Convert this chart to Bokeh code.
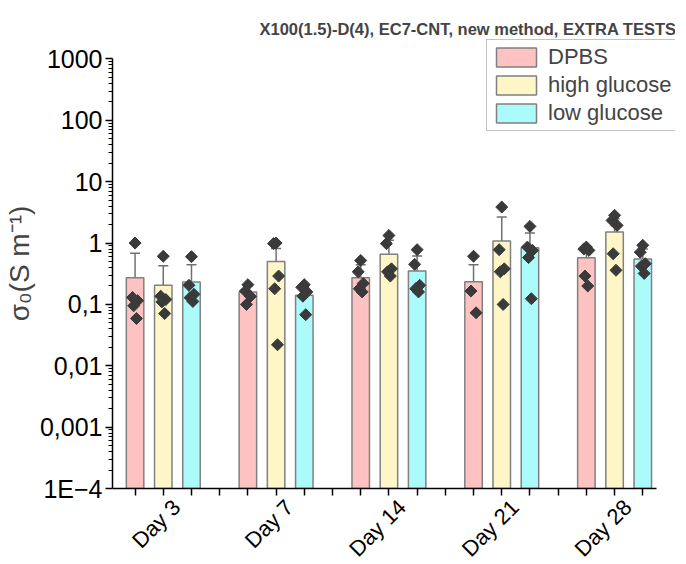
import numpy as np
from bokeh.plotting import figure
from bokeh.models import (FixedTicker, Whisker, TeeHead, ColumnDataSource, Legend,
                          LegendItem, Range1d, CustomJSTickFormatter)
from bokeh.embed import file_html
from bokeh.resources import INLINE

# ---------------- data ----------------
days = ["Day 3", "Day 7", "Day 14", "Day 21", "Day 28"]
series_names = ["DPBS", "high glucose", "low glucose"]

mean_dpbs = [0.273, 0.159, 0.273, 0.235, 0.578]
mean_high = [0.205, 0.503, 0.655, 1.08, 1.51]
mean_low = [0.232, 0.141, 0.35, 0.84, 0.55]

err_hi_dpbs = [0.41, 0.04, 0.17, 0.21, 0.30]
err_hi_high = [0.22, 0.31, 0.46, 1.57, 0.98]
err_hi_low = [0.21, 0.05, 0.265, 0.62, 0.25]

err_lo_dpbs = [0.41, 0.04, 0.145, 0.21, 0.30]
err_lo_high = [0.22, 0.47, 0.46, 1.57, 0.98]
err_lo_low = [0.21, 0.05, 0.26, 0.63, 0.25]

pts_dpbs = [[1.0, 0.13, 0.115, 0.095, 0.059],
            [0.21, 0.165, 0.135, 0.10],
            [0.52, 0.34, 0.22, 0.18, 0.16],
            [0.61, 0.165, 0.073],
            [0.86, 0.80, 0.76, 0.29, 0.20]]
pts_high = [[0.61, 0.136, 0.12, 0.11, 0.071],
            [1.0, 0.98, 0.29, 0.18, 0.022],
            [1.33, 0.98, 0.38, 0.34, 0.29],
            [3.86, 0.78, 0.38, 0.34, 0.10],
            [2.83, 2.34, 1.94, 0.67, 0.36]]
pts_low = [[0.60, 0.205, 0.146, 0.129, 0.112],
           [0.21, 0.19, 0.16, 0.136, 0.068],
           [0.78, 0.45, 0.205, 0.18, 0.16],
           [1.87, 0.86, 0.76, 0.58, 0.124],
           [0.92, 0.71, 0.46, 0.42, 0.32]]

ytick_labels = ["1E\u22124", "0,001", "0,01", "0,1", "1", "10", "100", "1000"]

# ---------------- styling ----------------
FONT = "Liberation Sans"
fills = ["#FFC2C2", "#FFF6C8", "#ABFBFB"]
edge = "#808080"
err_col = "#707070"
pt_col = "#3a3a3a"
BOTTOM = 1e-4
Y_TOP = 1e3

means = [mean_dpbs, mean_high, mean_low]
his = [err_hi_dpbs, err_hi_high, err_hi_low]
los = [err_lo_dpbs, err_lo_high, err_lo_low]
pts = [pts_dpbs, pts_high, pts_low]

p = figure(frame_width=563, frame_height=450, y_axis_type="log",
           x_range=Range1d(0.2, 20.16), y_range=Range1d(BOTTOM, 10 ** 3.334),
           output_backend="svg", toolbar_location=None,
           min_border_left=107, min_border_right=0, min_border_top=38,
           min_border_bottom=0)
p.outline_line_color = None
p.grid.visible = False
p.background_fill_color = "white"

bar_renderers = []
jit = [0.0, -0.09, 0.09, -0.05, 0.05]
for s in range(3):
    xs = [1 + 4 * g + s for g in range(len(days))]
    src = ColumnDataSource(dict(x=xs, top=means[s]))
    r = p.vbar(x="x", top="top", bottom=BOTTOM, width=0.62, source=src,
               fill_color=fills[s], line_color=edge, line_width=1.5)
    bar_renderers.append(r)

for s in range(3):
    xs = [1 + 4 * g + s for g in range(len(days))]
    up = ColumnDataSource(dict(base=xs, lower=means[s],
                               upper=[m + e for m, e in zip(means[s], his[s])]))
    w1 = Whisker(base="base", lower="lower", upper="upper", source=up,
                 line_color=err_col, line_width=1.5, lower_head=None,
                 upper_head=TeeHead(size=10, line_color=err_col, line_width=1.5))
    p.add_layout(w1)
    lb, ll, lu = [], [], []
    for x, m, e in zip(xs, means[s], los[s]):
        if m - e > 0:
            lb.append(x); ll.append(m - e); lu.append(m)
    if lb:
        dn = ColumnDataSource(dict(base=lb, lower=ll, upper=lu))
        w2 = Whisker(base="base", lower="lower", upper="upper", source=dn,
                     line_color=err_col, line_width=1.5, upper_head=None,
                     lower_head=TeeHead(size=10, line_color=err_col, line_width=1.5))
        p.add_layout(w2)

for s in range(3):
    px, py = [], []
    for g in range(len(days)):
        for i, v in enumerate(pts[s][g]):
            px.append(1 + 4 * g + s + jit[i % len(jit)])
            py.append(v)
    p.scatter(px, py, marker="square", angle=np.pi / 4, size=8.5,
              fill_color=pt_col, line_color=pt_col)

# ---------------- axes ----------------
yax = p.yaxis[0]
yax.bounds = (BOTTOM, Y_TOP)
yax.ticker = FixedTicker(ticks=[10.0 ** k for k in range(-4, 4)],
                         minor_ticks=[m * 10.0 ** k for k in range(-4, 3) for m in range(2, 10)])
yax.formatter = CustomJSTickFormatter(args=dict(labels=ytick_labels),
                                      code="const k = Math.round(Math.log10(tick)); return labels[k + 4];")
yax.axis_label = "\u03c3\u2080(S m\u207b\u00b9)"
yax.axis_label_text_font = FONT
yax.axis_label_text_font_style = "normal"
yax.axis_label_text_font_size = "28px"
yax.axis_label_standoff = 2
yax.major_label_text_font = FONT
yax.major_label_text_font_size = "25px"
yax.major_label_standoff = 3
yax.major_tick_out = 7
yax.major_tick_in = 0
yax.minor_tick_out = 4
yax.minor_tick_in = 0
yax.major_tick_line_color = "black"
yax.major_tick_line_width = 1.5
yax.minor_tick_line_color = "black"
yax.minor_tick_line_width = 1

# x axis: the visible ticks are the "minor" ticks at every slot; the invisible
# major ticks carry the rotated day labels, shifted so the text sits centred.
LABEL_SHIFT = 0.47
xax = p.xaxis[0]
xax.bounds = (0.2, 19.5)
xax.ticker = FixedTicker(ticks=[2 + 4 * g + LABEL_SHIFT for g in range(len(days))],
                         minor_ticks=list(range(1, 20)))
xax.formatter = CustomJSTickFormatter(args=dict(days=days, shift=LABEL_SHIFT),
                                      code="const i = Math.round((tick - 2 - shift) / 4); return days[i];")
xax.major_label_orientation = np.pi / 4
xax.major_label_text_font = FONT
xax.major_label_text_font_size = "22px"
xax.major_label_standoff = 8
xax.major_tick_line_color = None
xax.major_tick_out = 7
xax.major_tick_in = 0
xax.minor_tick_out = 7
xax.minor_tick_in = 0
xax.minor_tick_line_color = "black"
xax.minor_tick_line_width = 1.5

for ax in (xax, yax):
    ax.axis_line_color = "black"
    ax.axis_line_width = 1.5
    ax.major_label_text_color = "black"

# ---------------- title ----------------
p.title.text = "X100(1.5)-D(4), EC7-CNT, new method, EXTRA TESTS"
p.title.text_font = FONT
p.title.text_font_style = "bold"
p.title.text_font_size = "16.5px"
p.title.align = "left"
p.title.offset = 147
p.title.standoff = 1

# ---------------- legend ----------------
legend = Legend(items=[LegendItem(label=n, renderers=[r]) for n, r in zip(series_names, bar_renderers)],
                location=(374, 357))
legend.label_text_font = FONT
legend.label_text_font_size = "22px"
legend.glyph_width = 50
legend.glyph_height = 24
legend.label_height = 24
legend.label_standoff = 7
legend.spacing = 2
legend.padding = 4
legend.margin = 0
legend.border_line_color = "#888888"
legend.border_line_width = 1
legend.background_fill_color = "white"
legend.background_fill_alpha = 1.0
p.add_layout(legend)

open("out.html", "w").write(file_html(p, INLINE))
